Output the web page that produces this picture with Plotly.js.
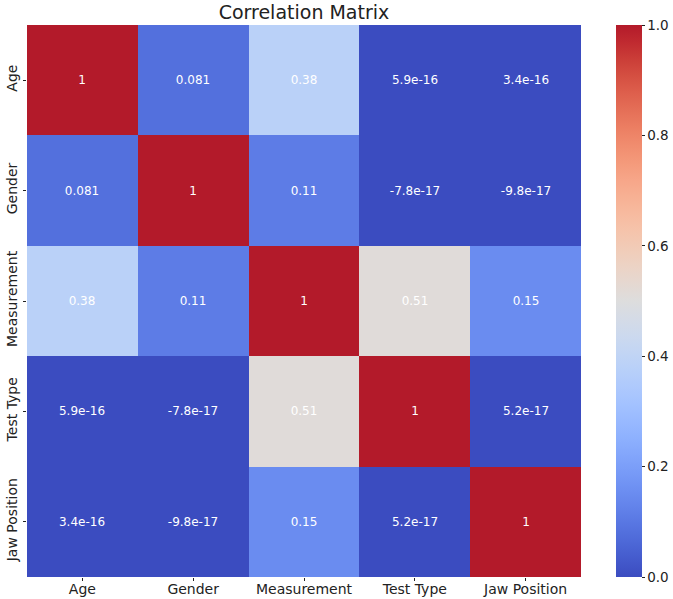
<!DOCTYPE html>
<html>
<head>
<meta charset="utf-8">
<script src="https://cdn.plot.ly/plotly-3.0.1.min.js"></script>
<style>html,body{margin:0;padding:0;background:#fff;}#chart{width:673px;height:599px;}</style>
</head>
<body>
<div id="chart"></div>
<script>
const labels = ["Age", "Gender", "Measurement", "Test Type", "Jaw Position"];
const rowAge = [1, 0.081, 0.38, 5.9e-16, 3.4e-16];
const rowGender = [0.081, 1, 0.11, -7.8e-17, -9.8e-17];
const rowMeasurement = [0.38, 0.11, 1, 0.51, 0.15];
const rowTestType = [5.9e-16, -7.8e-17, 0.51, 1, 5.2e-17];
const rowJawPosition = [3.4e-16, -9.8e-17, 0.15, 5.2e-17, 1];
const colorbarTicks = [0, 0.2, 0.4, 0.6, 0.8, 1.0];

const z = [rowAge, rowGender, rowMeasurement, rowTestType, rowJawPosition];

function fmt(v) {
  if (v !== 0 && Math.abs(v) < 1e-4) return v.toExponential(1);
  let s = v.toPrecision(2);
  if (s.indexOf('.') >= 0 && s.indexOf('e') < 0) s = s.replace(/0+$/, '').replace(/\.$/, '');
  return s;
}
const text = z.map(r => r.map(fmt));

const cw = [
 [59,76,192],[68,90,204],[77,104,215],[87,117,225],[98,130,234],[108,142,241],[119,154,247],[130,165,251],
 [141,176,254],[152,185,255],[163,194,255],[174,201,253],[184,208,249],[194,213,244],[204,217,238],[213,219,230],
 [221,221,221],[229,216,209],[236,211,197],[241,204,184],[245,196,172],[247,187,160],[247,177,148],[247,166,137],
 [244,154,123],[241,141,111],[236,127,99],[229,112,88],[222,96,77],[213,80,66],[203,62,56],[192,42,48],[179,26,42]
];
const colorscale = cw.map((c, i) => [i / (cw.length - 1), `rgb(${c[0]},${c[1]},${c[2]})`]);

const trace = {
  type: 'heatmap',
  x: labels, y: labels, z: z,
  zmin: 0, zmax: 1,
  colorscale: colorscale,
  text: text,
  texttemplate: '%{text}',
  textfont: {color: '#ffffff', size: 12, family: 'DejaVu Sans, sans-serif'},
  xgap: 0, ygap: 0,
  colorbar: {
    x: (616 - 27) / 554, xanchor: 'left', xpad: 0,
    y: 0.5, yanchor: 'middle', ypad: 0,
    len: 1, lenmode: 'fraction',
    thickness: 26, outlinewidth: 0,
    tickvals: colorbarTicks,
    ticktext: colorbarTicks.map(v => v.toFixed(1)),
    ticks: 'outside', ticklen: 3, tickcolor: '#222',
    tickfont: {size: 13.5, color: '#222', family: 'DejaVu Sans, sans-serif'}
  }
};

const layout = {
  width: 673, height: 599,
  margin: {l: 27, r: 92, t: 25, b: 22, autoexpand: false},
  paper_bgcolor: '#fff', plot_bgcolor: '#fff',
  font: {family: 'DejaVu Sans, sans-serif', color: '#222', size: 14},
  title: {
    text: 'Correlation Matrix',
    font: {size: 19, color: '#222', family: 'DejaVu Sans, sans-serif'},
    x: 0.5, xref: 'paper', y: 1 - 12/599, yref: 'container', yanchor: 'middle'
  },
  xaxis: {
    type: 'category', automargin: false, showgrid: false, zeroline: false, showline: false,
    ticks: 'outside', ticklen: 3, tickcolor: '#222', ticklabelstandoff: -4,
    tickfont: {size: 14, color: '#222'}
  },
  yaxis: {
    type: 'category', autorange: 'reversed', automargin: false, showgrid: false, zeroline: false, showline: false,
    ticks: 'outside', ticklen: 3, tickcolor: '#222', tickangle: -90,
    tickfont: {size: 14, color: '#222'}
  }
};

Plotly.newPlot('chart', [trace], layout, {displayModeBar: false, staticPlot: true});
</script>
</body>
</html>
